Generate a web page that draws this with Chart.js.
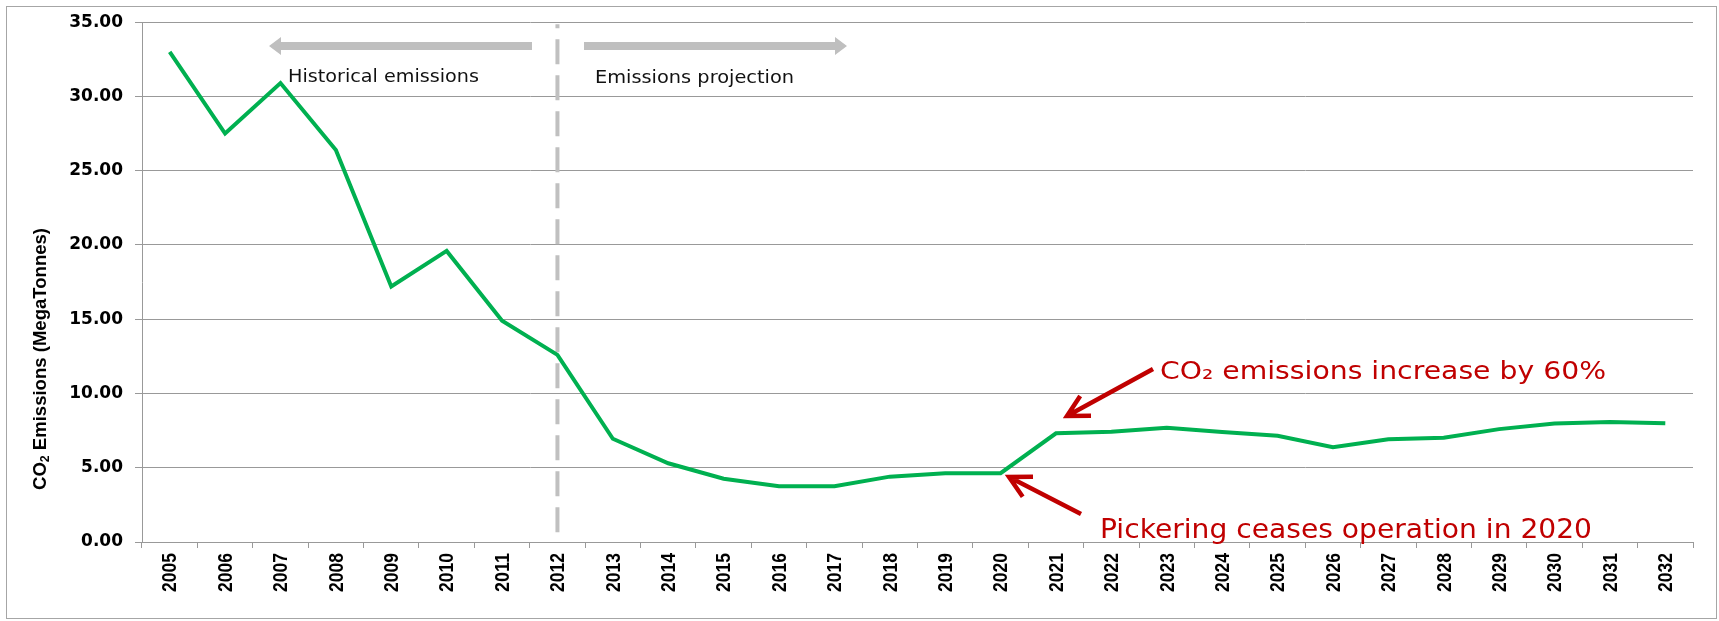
<!DOCTYPE html>
<html>
<head>
<meta charset="utf-8">
<script src="https://cdn.jsdelivr.net/npm/chart.js@4"></script>
<style>
  html, body { margin: 0; padding: 0; background: #fff; }
  #wrap { width: 1719px; height: 621px; }
</style>
</head>
<body>
<div id="wrap"><canvas id="chart" width="1719" height="621"></canvas></div>
<script>
// data
const years = ['2005', '2006', '2007', '2008', '2009', '2010', '2011', '2012', '2013', '2014',
  '2015', '2016', '2017', '2018', '2019', '2020', '2021', '2022', '2023', '2024',
  '2025', '2026', '2027', '2028', '2029', '2030', '2031', '2032']
const emissions = [33.0, 27.5, 30.9, 26.4, 17.2, 19.6, 14.9, 12.6, 6.95, 5.3,
  4.26, 3.75, 3.75, 4.4, 4.63, 4.63, 7.32, 7.42, 7.7, 7.4,
  7.15, 6.38, 6.92, 7.02, 7.6, 7.98, 8.08, 8.0]
const yMin = 0
const yMax = 35
const yStep = 5
const splitYear = '2012'

const RED = '#C00000'
const GREY_ARROW = '#BFBFBF'

// draw text squeezed/stretched to a given width
function fitText(ctx, text, x, y, width) {
  const w = ctx.measureText(text).width
  ctx.save()
  ctx.translate(x, y)
  ctx.scale(width / w, 1)
  ctx.fillText(text, 0, 0)
  ctx.restore()
}

function blockArrow(ctx, tail, tip, y) {
  const dir = Math.sign(tip - tail)
  const headLen = 12, headH = 9, shaft = 4
  ctx.beginPath()
  ctx.moveTo(tail, y - shaft)
  ctx.lineTo(tip - dir * headLen, y - shaft)
  ctx.lineTo(tip - dir * headLen, y - headH)
  ctx.lineTo(tip, y)
  ctx.lineTo(tip - dir * headLen, y + headH)
  ctx.lineTo(tip - dir * headLen, y + shaft)
  ctx.lineTo(tail, y + shaft)
  ctx.closePath()
  ctx.fill()
}

function lineArrow(ctx, x1, y1, x2, y2) {
  const back = Math.atan2(y1 - y2, x1 - x2)
  const arm = 24, spread = 28 * Math.PI / 180
  ctx.beginPath()
  ctx.moveTo(x1, y1)
  ctx.lineTo(x2, y2)
  ctx.moveTo(x2 + arm * Math.cos(back - spread), y2 + arm * Math.sin(back - spread))
  ctx.lineTo(x2, y2)
  ctx.lineTo(x2 + arm * Math.cos(back + spread), y2 + arm * Math.sin(back + spread))
  ctx.stroke()
}

const extras = {
  id: 'extras',
  beforeDatasetsDraw(chart) {
    const { ctx, scales: { x, y } } = chart
    const px = x.getPixelForValue(years.indexOf(splitYear))
    ctx.save()
    ctx.strokeStyle = '#C0C0C0'
    ctx.lineWidth = 4
    ctx.setLineDash([25, 11])
    ctx.lineDashOffset = 21
    ctx.beginPath()
    ctx.moveTo(px, y.top + 2)
    ctx.lineTo(px, y.bottom)
    ctx.stroke()
    ctx.restore()
  },
  afterDraw(chart) {
    const { ctx, scales: { x, y } } = chart
    ctx.save()

    // outer frame
    ctx.strokeStyle = '#A6A6A6'
    ctx.lineWidth = 1
    ctx.strokeRect(6.5, 6.5, 1710, 612)

    // year labels, narrow bold, reading upwards
    ctx.fillStyle = '#000'
    ctx.font = 'bold 21px "Liberation Sans"'
    ctx.textAlign = 'right'
    ctx.textBaseline = 'middle'
    years.forEach((yr, i) => {
      const px = x.getPixelForValue(i)
      const w = ctx.measureText(yr).width
      ctx.save()
      ctx.translate(px + 1, y.bottom + 11)
      ctx.rotate(-Math.PI / 2)
      ctx.scale(39 / w, 1)
      ctx.fillText(yr, 0, 0)
      ctx.restore()
    })

    // period arrows
    ctx.fillStyle = GREY_ARROW
    blockArrow(ctx, 532, 269, 46)
    blockArrow(ctx, 584, 847, 46)

    ctx.fillStyle = '#111'
    ctx.textBaseline = 'alphabetic'
    ctx.textAlign = 'left'
    ctx.font = '18px "DejaVu Sans"'
    fitText(ctx, 'Historical emissions', 288, 82, 191)
    fitText(ctx, 'Emissions projection', 595, 83, 199)

    // red callouts
    ctx.fillStyle = RED
    ctx.font = '24px "DejaVu Sans"'
    fitText(ctx, 'CO\u2082 emissions increase by 60%', 1160, 379, 446)
    ctx.font = '27px "DejaVu Sans"'
    fitText(ctx, 'Pickering ceases operation in 2020', 1100, 538, 492)

    ctx.strokeStyle = RED
    ctx.lineWidth = 4.5
    lineArrow(ctx, 1153, 369, 1067, 416)
    lineArrow(ctx, 1081, 514, 1009, 477)

    // y axis title with subscript
    ctx.fillStyle = '#000'
    ctx.translate(41, 359)
    ctx.rotate(-Math.PI / 2)
    const big = 'bold 18px "Liberation Sans"'
    const small = 'bold 12px "Liberation Sans"'
    ctx.font = big
    const w1 = ctx.measureText('CO').width
    const w3 = ctx.measureText(' Emissions (MegaTonnes)').width
    ctx.font = small
    const w2 = ctx.measureText('2').width
    const total = w1 + w2 + w3
    ctx.scale(262 / total, 1)
    ctx.textBaseline = 'middle'
    let cx = -total / 2
    ctx.font = big
    ctx.fillText('CO', cx, 0)
    cx += w1
    ctx.font = small
    ctx.fillText('2', cx, 5)
    cx += w2
    ctx.font = big
    ctx.fillText(' Emissions (MegaTonnes)', cx, 0)

    ctx.restore()
  }
}

new Chart(document.getElementById('chart'), {
  type: 'line',
  data: {
    labels: years,
    datasets: [{
      data: emissions,
      borderColor: '#00B050',
      borderWidth: 4,
      pointRadius: 0,
      tension: 0,
      fill: false
    }]
  },
  options: {
    responsive: false,
    animation: false,
    devicePixelRatio: 1,
    layout: { padding: { top: 20, right: 26, left: 0, bottom: 0 } },
    plugins: { legend: { display: false }, tooltip: { enabled: false } },
    scales: {
      x: {
        offset: true,
        grid: { offset: true, drawOnChartArea: false, tickLength: 6, color: '#999' },
        border: { color: '#999' },
        ticks: { display: false, autoSkip: false },
        afterFit: s => { s.height = 79 }
      },
      y: {
        min: yMin,
        max: yMax,
        ticks: {
          stepSize: yStep,
          padding: 12,
          color: '#000',
          font: { family: '"DejaVu Sans"', size: 17, weight: 'bold' },
          callback: v => v.toFixed(2)
        },
        grid: { color: '#999', tickLength: 7 },
        border: { color: '#999' },
        afterFit: s => { s.width = 142 }
      }
    }
  },
  plugins: [extras]
})
</script>
</body>
</html>
